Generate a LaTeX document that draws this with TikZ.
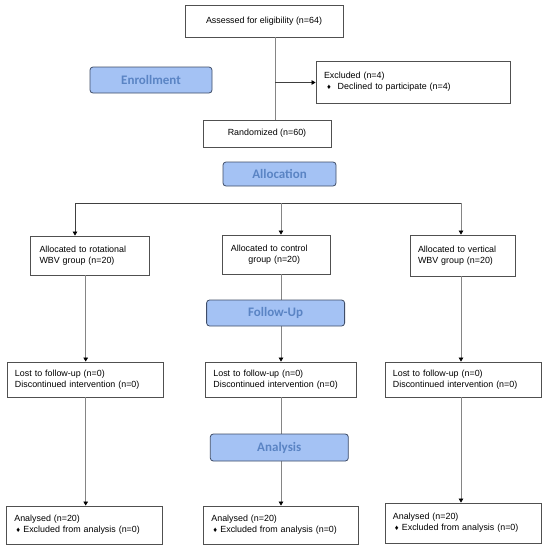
\documentclass[tikz,border=0pt]{standalone}
\usepackage{fontspec}
\setmainfont{Liberation Sans}
\newfontfamily\phasefont{Carlito}
\usetikzlibrary{arrows.meta}
\definecolor{phasefill}{HTML}{A4C2F4}
\definecolor{phasetext}{HTML}{5A84C4}
\definecolor{phaseline}{HTML}{3F4D68}
\definecolor{boxline}{HTML}{505050}
\definecolor{connline}{HTML}{858585}
\definecolor{hline}{HTML}{404040}
\newcommand{\dmd}{{\fontsize{7.5}{7.5}\selectfont ♦}}
\begin{document}
\begin{tikzpicture}[x=1pt,y=-1pt,
  box/.style={draw=boxline, line width=0.8pt, fill=white, inner sep=0pt,
    font=\fontsize{8.9}{10.8}\selectfont},
  lbox/.style={box, align=left},
  phase/.style={draw=phaseline, line width=0.8pt, fill=phasefill, rounded corners=3pt,
    text=phasetext, font=\phasefont\bfseries\fontsize{13}{15}\selectfont, inner sep=0pt},
  conn/.style={draw=connline, line width=0.7pt},
  hconn/.style={draw=hline, line width=0.7pt},
  tip/.style={-{Triangle[length=4pt,width=4.5pt,color=black,fill=black]}}]
\fill[white] (0,0) rectangle (549,550);
\useasboundingbox (0,0) rectangle (549,550);

% top part
\node[box, minimum width=158pt, minimum height=32pt] (assess) at (264,21) {Assessed for eligibility (n=64)};
\node[lbox, minimum width=194pt, minimum height=42pt, text width=178pt, inner xsep=8pt] (excl) at (413,82)
  {Excluded (n=4)\\\hspace*{3pt}\makebox[10.7pt][l]{\dmd}Declined to participate (n=4)};
\node[box, minimum width=128pt, minimum height=27pt] (rand) at (267,133.5) {Randomized (n=60)};

% allocation boxes
\node[lbox, minimum width=119.5pt, minimum height=39pt, text width=100.5pt, inner xsep=9.5pt] (allocL) at (89.75,255.5)
  {Allocated to rotational\\WBV group (n=20)};
\node[lbox, minimum width=108pt, minimum height=39pt, text width=91.6pt, inner xsep=8.2pt] (allocM) at (276.7,254.5)
  {Allocated to control\\\hspace*{17.5pt}group (n=20)};
\node[lbox, minimum width=105pt, minimum height=41pt, text width=89pt, inner xsep=8pt] (allocR) at (462.5,255.5)
  {Allocated to vertical\\WBV group (n=20)};

% follow-up boxes
\node[lbox, minimum width=156pt, minimum height=35pt, text width=140pt, inner xsep=8pt] (lostL) at (85,379.5)
  {Lost to follow-up (n=0)\\Discontinued intervention (n=0)};
\node[lbox, minimum width=151pt, minimum height=35pt, text width=135pt, inner xsep=8pt] (lostM) at (280.9,379.5)
  {Lost to follow-up (n=0)\\Discontinued intervention (n=0)};
\node[lbox, minimum width=156pt, minimum height=35pt, text width=140pt, inner xsep=8pt] (lostR) at (462.9,379.5)
  {Lost to follow-up (n=0)\\Discontinued intervention (n=0)};

% analysis boxes
\node[lbox, minimum width=155.7pt, minimum height=38pt, text width=139.7pt, inner xsep=8pt] (anaL) at (84.2,525)
  {Analysed (n=20)\\\hspace*{2pt}\makebox[7pt][l]{\dmd}Excluded from analysis (n=0)};
\node[lbox, minimum width=155pt, minimum height=38pt, text width=139pt, inner xsep=8pt] (anaM) at (280.9,525)
  {Analysed (n=20)\\\hspace*{2pt}\makebox[7pt][l]{\dmd}Excluded from analysis (n=0)};
\node[lbox, minimum width=156pt, minimum height=40pt, text width=140pt, inner xsep=8pt] (anaR) at (462.9,523)
  {Analysed (n=20)\\\hspace*{2pt}\makebox[7pt][l]{\dmd}Excluded from analysis (n=0)};

% helper coordinates
\coordinate (main) at (275,0);
\coordinate (sL) at (75,203);
\coordinate (sM) at (281,203);
\coordinate (sR) at (461,203);
\coordinate (cL) at (85.7,0);
\coordinate (cM) at (281,0);
\coordinate (cR) at (461,0);

% connectors
\draw[conn] (assess.south -| main) -- (rand.north -| main);
\draw[hconn, tip] (main |- 82.5,82.5) -- (excl.west |- 0,82.5);
\draw[hconn] (sL) -- (sR);
\draw[hconn, tip] (sL) -- (sL |- allocL.north);
\draw[conn, tip] (sM) -- (sM |- allocM.north);
\draw[conn, tip] (sR) -- (sR |- allocR.north);

\draw[conn, tip] (allocL.south -| cL) -- (lostL.north -| cL);
\draw[conn, tip] (allocM.south -| cM) -- (lostM.north -| cM);
\draw[conn, tip] (allocR.south -| cR) -- (lostR.north -| cR);

\draw[conn, tip] (lostL.south -| cL) -- (anaL.north -| cL);
\draw[conn, tip] (lostM.south -| cM) -- (anaM.north -| cM);
\draw[conn, tip] (lostR.south -| cR) -- (anaR.north -| cR);

% phase labels
\node[phase, minimum width=122pt, minimum height=26pt] (enroll) at (151,80) {Enrollment};
\node[phase, minimum width=113pt, minimum height=24pt] (allocph) at (279.5,174) {Allocation};
\node[phase, minimum width=138pt, minimum height=26pt] (follow) at (275.6,313) {Follow-Up};
\node[phase, minimum width=138pt, minimum height=27pt] (analysis) at (279.3,447.5) {Analysis};
\end{tikzpicture}
\end{document}
